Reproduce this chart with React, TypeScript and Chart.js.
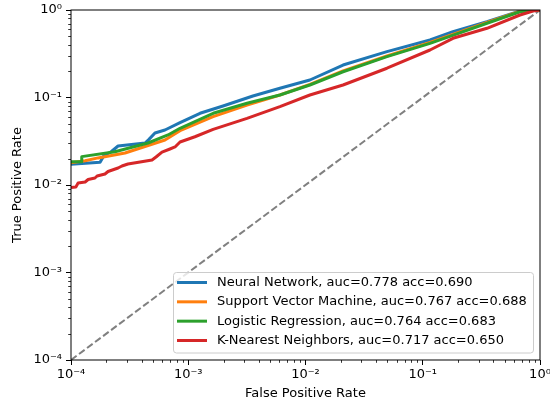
import { useEffect, useRef } from 'react';
import { Chart, registerables } from 'chart.js';

Chart.register(...registerables);

const FONT = 'DejaVu Sans';

const seriesNames = [
  'Neural Network, auc=0.778 acc=0.690',
  'Support Vector Machine, auc=0.767 acc=0.688',
  'Logistic Regression, auc=0.764 acc=0.683',
  'K-Nearest Neighbors, auc=0.717 acc=0.650',
];
const seriesColors = ['#1f77b4', '#ff7f0e', '#2ca02c', '#d62728'];

const nnFpr = [1e-4, 1.77e-4, 1.9e-4, 2.2e-4, 2.52e-4, 4.28e-4, 4.6e-4, 5.2e-4, 6.33e-4, 8.51e-4, 1.26e-3, 1.98e-3, 3.56e-3, 6.05e-3, 0.0109, 0.0209, 0.0495, 0.1153, 0.181, 0.353, 0.675, 1];
const nnTpr = [0.01725, 0.01817, 0.0215, 0.024, 0.0279, 0.0302, 0.033, 0.0393, 0.0425, 0.0515, 0.066, 0.0799, 0.104, 0.1274, 0.1585, 0.235, 0.334, 0.454, 0.565, 0.735, 0.974, 1];

const svmFpr = [1e-4, 1.32e-4, 1.7e-4, 2.89e-4, 6.33e-4, 8.51e-4, 1.63e-3, 3.17e-3, 6.05e-3, 0.0109, 0.0209, 0.0495, 0.1153, 0.353, 0.675, 1];
const svmTpr = [0.01799, 0.01897, 0.0204, 0.0232, 0.0327, 0.0418, 0.0604, 0.0821, 0.1068, 0.141, 0.201, 0.298, 0.425, 0.72, 0.966, 1];

const lrFpr = [1e-4, 1.23e-4, 1.235e-4, 2.37e-4, 4.54e-4, 6.72e-4, 8.51e-4, 1.63e-3, 3.17e-3, 6.05e-3, 0.0109, 0.0209, 0.0495, 0.1153, 0.353, 0.675, 1];
const lrTpr = [0.01846, 0.01846, 0.0211, 0.024, 0.0302, 0.0373, 0.0445, 0.066, 0.0859, 0.1068, 0.139, 0.197, 0.293, 0.416, 0.705, 0.956, 1];

const knnFpr = [1e-4, 1.1e-4, 1.15e-4, 1.32e-4, 1.4e-4, 1.6e-4, 1.67e-4, 1.95e-4, 2.07e-4, 2.52e-4, 2.72e-4, 3.06e-4, 3.88e-4, 4.91e-4, 5.31e-4, 5.97e-4, 6.98e-4, 7.71e-4, 8.51e-4, 1.14e-3, 1.63e-3, 3.17e-3, 6.05e-3, 0.0109, 0.0209, 0.0495, 0.1153, 0.181, 0.353, 0.675, 0.871, 1];
const knnTpr = [0.00936, 0.00948, 0.01054, 0.01083, 0.01156, 0.01202, 0.01268, 0.01337, 0.01427, 0.01564, 0.0165, 0.01738, 0.01834, 0.01934, 0.0209, 0.0238, 0.0258, 0.0272, 0.031, 0.0356, 0.0433, 0.0578, 0.0785, 0.1068, 0.139, 0.216, 0.349, 0.475, 0.618, 0.877, 0.974, 1];

const chanceX = [1e-4, 1];
const chanceY = [1e-4, 1];

const tickValues = [1e-4, 1e-3, 1e-2, 1e-1, 1];
const tickLabels = ['10⁻⁴', '10⁻³', '10⁻²', '10⁻¹', '10⁰'];
const minorMultipliers = [2, 3, 4, 5, 6, 7, 8, 9];

const toPoints = (xs: number[], ys: number[]) => xs.map((x, i) => ({ x, y: ys[i] }));

const labelFor = (v: number) => {
  const i = tickValues.findIndex((t) => Math.abs(Math.log10(t) - Math.log10(v)) < 1e-6);
  return i >= 0 ? tickLabels[i] : '';
};

const framePlugin = {
  id: 'frameAndLegend',
  afterDraw(chart: any) {
    const { ctx, chartArea } = chart;
    const xs = chart.scales.x;
    const ys = chart.scales.y;
    ctx.save();
    // minor ticks
    ctx.strokeStyle = '#000';
    ctx.lineWidth = 0.8;
    for (let k = -4; k < 0; k++) {
      for (const m of minorMultipliers) {
        const v = m * Math.pow(10, k);
        const px = Math.round(xs.getPixelForValue(v)) + 0.5;
        ctx.beginPath();
        ctx.moveTo(px, chartArea.bottom);
        ctx.lineTo(px, chartArea.bottom + 2.8);
        ctx.stroke();
        const py = Math.round(ys.getPixelForValue(v)) + 0.5;
        ctx.beginPath();
        ctx.moveTo(chartArea.left, py);
        ctx.lineTo(chartArea.left - 2.8, py);
        ctx.stroke();
      }
    }
    // frame
    ctx.lineWidth = 1;
    ctx.strokeStyle = '#000';
    ctx.strokeRect(chartArea.left, chartArea.top, chartArea.right - chartArea.left, chartArea.bottom - chartArea.top);

    // legend
    const lx = 173.5, ly = 272.5, lw = 360, lh = 80.5, r = 3;
    ctx.beginPath();
    ctx.moveTo(lx + r, ly);
    ctx.lineTo(lx + lw - r, ly);
    ctx.arcTo(lx + lw, ly, lx + lw, ly + r, r);
    ctx.lineTo(lx + lw, ly + lh - r);
    ctx.arcTo(lx + lw, ly + lh, lx + lw - r, ly + lh, r);
    ctx.lineTo(lx + r, ly + lh);
    ctx.arcTo(lx, ly + lh, lx, ly + lh - r, r);
    ctx.lineTo(lx, ly + r);
    ctx.arcTo(lx, ly, lx + r, ly, r);
    ctx.closePath();
    ctx.fillStyle = 'rgba(255,255,255,0.8)';
    ctx.fill();
    ctx.strokeStyle = '#cccccc';
    ctx.lineWidth = 1;
    ctx.stroke();

    ctx.font = `13px "${FONT}"`;
    ctx.textBaseline = 'middle';
    ctx.textAlign = 'left';
    seriesNames.forEach((name, i) => {
      const rowY = 282.5 + i * 19.33;
      ctx.strokeStyle = seriesColors[i];
      ctx.lineWidth = 3;
      ctx.beginPath();
      ctx.moveTo(177, rowY);
      ctx.lineTo(207, rowY);
      ctx.stroke();
      ctx.fillStyle = '#000';
      ctx.fillText(name, 217, rowY);
    });
    ctx.restore();
  },
};

export default function App() {
  const ref = useRef<HTMLCanvasElement | null>(null);

  useEffect(() => {
    document.body.style.margin = '0';
    const canvas = ref.current;
    if (!canvas) return;

    const lineDs = (label: string, xs: number[], ys: number[], color: string, order: number) => ({
      label,
      data: toPoints(xs, ys),
      borderColor: color,
      backgroundColor: color,
      borderWidth: 3,
      pointRadius: 0,
      pointHoverRadius: 0,
      tension: 0,
      fill: false,
      clip: 0,
      order,
      borderCapStyle: 'butt' as const,
      borderJoinStyle: 'round' as const,
    });

    const chart = new Chart(canvas, {
      type: 'line',
      data: {
        datasets: [
          {
            label: 'chance',
            data: toPoints(chanceX, chanceY),
            borderColor: '#808080',
            borderWidth: 2,
            borderDash: [7, 3],
            pointRadius: 0,
            fill: false,
            clip: 0,
            order: 10,
          },
          lineDs(seriesNames[0], nnFpr, nnTpr, seriesColors[0], 4),
          lineDs(seriesNames[1], svmFpr, svmTpr, seriesColors[1], 3),
          lineDs(seriesNames[2], lrFpr, lrTpr, seriesColors[2], 2),
          lineDs(seriesNames[3], knnFpr, knnTpr, seriesColors[3], 1),
        ] as any,
      },
      options: {
        animation: false,
        responsive: false,
        maintainAspectRatio: false,
        events: [],
        layout: { padding: { top: 10, right: 10, left: 0, bottom: 0 } },
        plugins: {
          legend: { display: false },
          tooltip: { enabled: false },
        },
        scales: {
          x: {
            type: 'logarithmic',
            min: 1e-4,
            max: 1,
            afterBuildTicks: (s: any) => {
              s.ticks = tickValues.map((v) => ({ value: v, major: true }));
            },
            afterFit: (s: any) => {
              s.height = 44;
              s.paddingLeft = 0;
              s.paddingRight = 0;
            },
            ticks: {
              autoSkip: false,
              maxRotation: 0,
              minRotation: 0,
              padding: 2,
              color: '#000',
              font: { family: FONT, size: 13 },
              callback: (v: any) => labelFor(Number(v)),
            },
            grid: { display: true, drawOnChartArea: false, drawTicks: true, tickLength: 5, color: '#000', lineWidth: 1 },
            border: { display: false },
            title: {
              display: true,
              text: 'False Positive Rate',
              color: '#000',
              font: { family: FONT, size: 13 },
              padding: { top: 0, bottom: 3 },
            },
          },
          y: {
            type: 'logarithmic',
            min: 1e-4,
            max: 1,
            afterBuildTicks: (s: any) => {
              s.ticks = tickValues.map((v) => ({ value: v, major: true }));
            },
            afterFit: (s: any) => {
              s.width = 71;
              s.paddingTop = 0;
              s.paddingBottom = 0;
            },
            ticks: {
              autoSkip: false,
              padding: 4,
              color: '#000',
              font: { family: FONT, size: 13 },
              callback: (v: any) => labelFor(Number(v)),
            },
            grid: { display: true, drawOnChartArea: false, drawTicks: true, tickLength: 5, color: '#000', lineWidth: 1 },
            border: { display: false },
            title: {
              display: true,
              text: 'True Positive Rate',
              color: '#000',
              font: { family: FONT, size: 13 },
              padding: { top: 10, bottom: 0 },
            },
          },
        },
      } as any,
      plugins: [framePlugin],
    });

    return () => chart.destroy();
  }, []);

  return (
    <div style={{ width: 550, height: 404 }}>
      <canvas ref={ref} width={550} height={404} style={{ display: 'block' }} />
    </div>
  );
}
